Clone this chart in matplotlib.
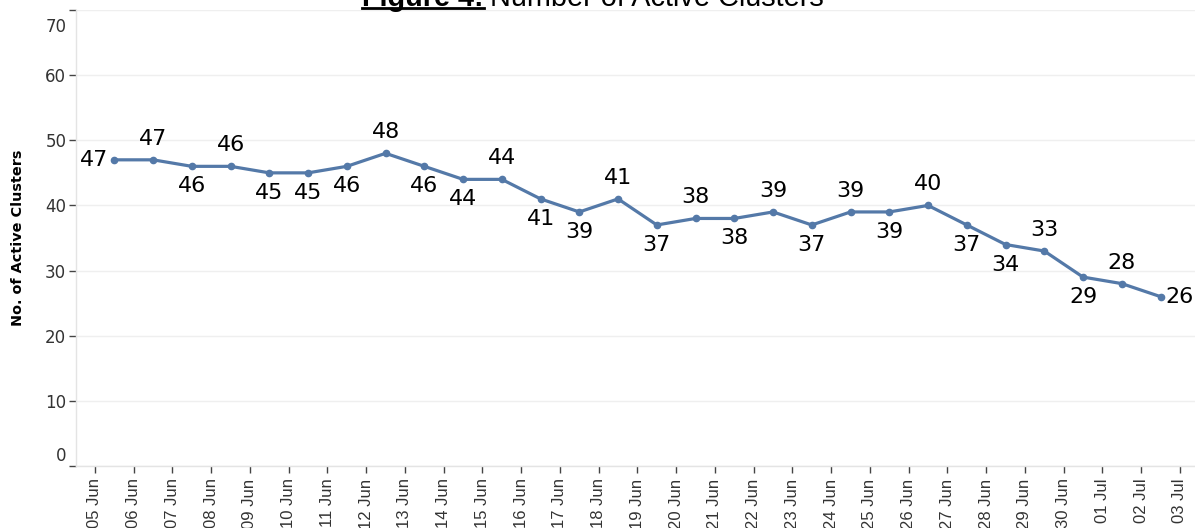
import matplotlib
matplotlib.use("Agg")
import matplotlib.pyplot as plt
import matplotlib.transforms as mtransforms
from matplotlib.lines import Line2D

# ----------------------------------------------------
# data
# ----------------------------------------------------
DATES = [
    "05 Jun", "06 Jun", "07 Jun", "08 Jun", "09 Jun", "10 Jun", "11 Jun",
    "12 Jun", "13 Jun", "14 Jun", "15 Jun", "16 Jun", "17 Jun", "18 Jun",
    "19 Jun", "20 Jun", "21 Jun", "22 Jun", "23 Jun", "24 Jun", "25 Jun",
    "26 Jun", "27 Jun", "28 Jun", "29 Jun", "30 Jun", "01 Jul", "02 Jul",
    "03 Jul",
]
ACTIVE = [47, 47, 46, 46, 45, 45, 46, 48, 46, 44, 44, 41, 39, 41,
          37, 38, 38, 39, 37, 39, 39, 40, 37, 34, 33, 29, 28, 26]
# where each value label sits: L=left, A=above, B=below, R=right
LABEL_SIDE = ["L", "A", "B", "A", "B", "B", "B", "A", "B", "B", "A", "B", "B", "A",
              "B", "A", "B", "A", "B", "A", "B", "A", "B", "B", "A", "B", "A", "R"]
Y_TICKS = [0, 10, 20, 30, 40, 50, 60, 70]

LINE_COLOR = "#5479a8"
TEXT_COLOR = "#333333"
GRID_COLOR = "#efefef"

W, H = 1195, 528
fig = plt.figure(figsize=(W / 100, H / 100), dpi=100)
ax = fig.add_axes([76 / W, 1 - 466 / H, 1 - 76 / W, (466 - 10) / H])

xs = [i + 0.5 for i in range(len(ACTIVE))]
ax.plot(xs, ACTIVE, color=LINE_COLOR, linewidth=2.3, marker="o",
        markersize=4.5, zorder=3)

offsets = {"L": (-6, 0, "right", "center"), "A": (0, 21, "center", "center"),
           "B": (0, -20, "center", "center"), "R": (5, 0, "left", "center")}
for x, v, side in zip(xs, ACTIVE, LABEL_SIDE):
    dx, dy, ha, va = offsets[side]
    ax.annotate(str(v), (x, v), xytext=(dx, dy), textcoords="offset pixels",
                ha=ha, va=va, fontsize=16, color="black", family="DejaVu Sans")

ax.set_xlim(-0.49, 28.39)
ax.set_ylim(0, 70)
ax.set_xticks(range(len(DATES)))
ax.set_xticklabels(DATES, rotation=90, fontsize=12, color=TEXT_COLOR,
                   family="Liberation Sans")
ax.set_yticks(Y_TICKS)
ax.set_yticklabels([str(t) for t in Y_TICKS], fontsize=12, color=TEXT_COLOR,
                   family="DejaVu Sans")
ax.tick_params(axis="x", length=5, width=1, color="#444444", pad=4)
ax.tick_params(axis="y", length=5, width=1, color="#444444", pad=2)

# keep the end labels inside the axis, like the original
ylabels = ax.get_yticklabels()
ylabels[-1].set_transform(ylabels[-1].get_transform() +
                          mtransforms.ScaledTranslation(0, -15 / 100, fig.dpi_scale_trans))
ylabels[0].set_transform(ylabels[0].get_transform() +
                         mtransforms.ScaledTranslation(0, 12 / 100, fig.dpi_scale_trans))

ax.grid(axis="y", color=GRID_COLOR, linewidth=1)
ax.set_axisbelow(True)
for s in ["top", "right"]:
    ax.spines[s].set_visible(False)
for s in ["left", "bottom"]:
    ax.spines[s].set_color("#e4e4e4")
    ax.spines[s].set_linewidth(1)

ax.set_ylabel("No. of Active Clusters", fontsize=10.4, fontweight="bold",
              family="DejaVu Sans", color="black")
ax.yaxis.set_label_coords((25 - 76) / (W - 76), 0.5)

# title, mostly cut off at the top edge
title_y = 1 - 6 / H
t1 = fig.text(362 / W, title_y, "Figure 4:", fontsize=20.8, fontweight="bold",
              family="Liberation Sans", va="baseline", ha="left")
fig.canvas.draw()
bb = t1.get_window_extent()
fig.text((bb.x1 + 7) / W, title_y, "Number of Active Clusters", fontsize=20.8,
         family="Liberation Sans", va="baseline", ha="left")
fig.add_artist(Line2D([bb.x0 / W, bb.x1 / W], [1 - 8 / H, 1 - 8 / H],
                      color="black", linewidth=2, transform=fig.transFigure))

fig.savefig("out.png", dpi=100)
